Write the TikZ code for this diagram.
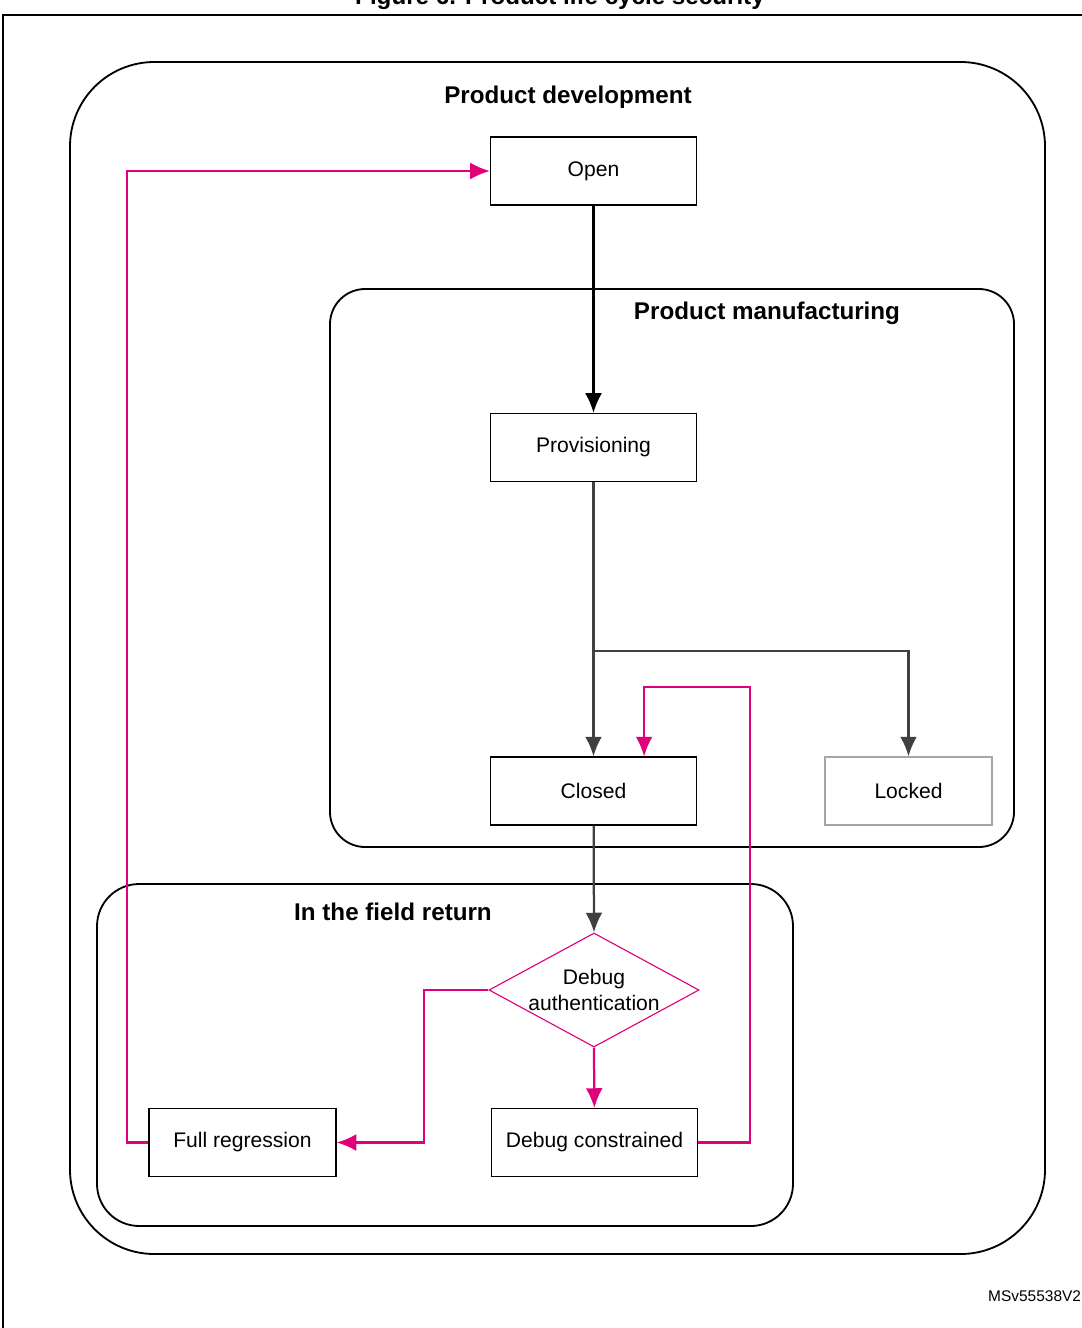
\documentclass[tikz,border=0pt]{standalone}
\usepackage{fontspec}
\setmainfont{Liberation Sans}
\usetikzlibrary{shapes.geometric,arrows.meta}
\definecolor{stpink}{HTML}{E0007A}
\definecolor{darkline}{HTML}{404040}
\tikzset{
  state/.style={draw, line width=0.8pt, minimum width=5.15cm, minimum height=1.7cm, font=\fontsize{15}{18}\selectfont},
  phase/.style={draw, line width=1.3pt},
  title/.style={font=\bfseries\fontsize{17.2}{20}\selectfont},
  flow/.style={darkline, line width=1.6pt, -{Latex[length=14pt,width=12pt]}},
  back/.style={stpink, line width=1.6pt, -{Latex[length=14pt,width=12pt]}},
}
\begin{document}
\begin{tikzpicture}[x=0.025cm,y=-0.025cm]
\useasboundingbox (0,0) rectangle (1082,1328);
\clip (0,0) rectangle (1082,1328);
% frame and caption
\node[title, anchor=base] (fig) at (560,4) {Figure 6. Product life cycle security};
\draw[line width=1pt] (3,1330) -- (3,15) -- (1090,15);
% phases
\draw[phase, rounded corners=60] (70,62) rectangle (1045,1254);
\node[title] (dev) at (568,97) {Product development};
\draw[phase, rounded corners=25] (330,289) rectangle (1014,847);
\node[title] (manu) at (767,313) {Product manufacturing};
\draw[phase, rounded corners=30] (97,884) rectangle (793,1226);
\node[title] (field) at (393,912) {In the field return};
% states
\node[state] (open) at (593.5,171) {Open};
\node[state] (prov) at (593.5,447.5) {Provisioning};
\node[state] (closed) at (593.5,791) {Closed};
\node[state, draw=gray!70, minimum width=4.175cm] (locked) at (908.5,791) {Locked};
\node[state, draw=stpink, diamond, aspect=1.85, minimum width=5.25cm, minimum height=2.85cm, inner sep=0pt, align=center] (auth) at (594,990) {Debug\\authentication};
\node[state] (dbg) at (594.5,1142.5) {Debug constrained};
\node[state, minimum width=4.675cm] (full) at (242.5,1142.5) {Full regression};
\coordinate (split) at (594,651);
% connectors
\draw[flow, black] (open) -- (prov);
\draw[flow] (prov) -- (closed);
\draw[flow] (split) -| (locked.north);
\draw[flow] (closed) -- (auth.north);
\draw[back] (auth.south) -- (dbg);
\draw[back] (auth.west) -- (424,990) |- (full.east);
\draw[back] (dbg.east) -- (750,1142.5) -- (750,687) -| ([xshift=36]closed.north);
\draw[back] (full.west) -- (127,1142.5) |- (open.west);
\node[font=\fontsize{11}{13}\selectfont, anchor=east] (ref) at (1086,1296) {MSv55538V2};
\end{tikzpicture}
\end{document}
